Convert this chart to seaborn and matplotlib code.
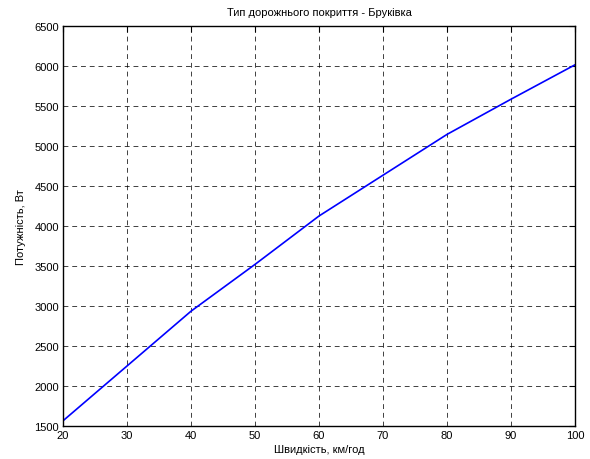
import matplotlib
matplotlib.use("Agg")
import matplotlib.pyplot as plt
import seaborn as sns
import pandas as pd

speed = [20, 30, 40, 50, 60, 70, 80, 90, 100]
power = [1565, 2250, 2935, 3520, 4125, 4635, 5145, 5585, 6015]
x_ticks = [20, 30, 40, 50, 60, 70, 80, 90, 100]
y_ticks = [1500, 2000, 2500, 3000, 3500, 4000, 4500, 5000, 5500, 6000, 6500]

title = "Тип дорожнього покриття - Бруківка"
xlabel = "Швидкість, км/год"
ylabel = "Потужність, Вт"

sns.set_style("white")
plt.rcParams['font.family'] = ['Liberation Sans', 'DejaVu Sans']
plt.rcParams['font.size'] = 8
plt.rcParams['text.color'] = 'black'
plt.rcParams['axes.labelcolor'] = 'black'

df = pd.DataFrame({"speed": speed, "power": power})

fig = plt.figure(figsize=(5.9, 4.6), dpi=100)
ax = fig.add_axes([63/590, 33/460, (575-63)/590, (427-27)/460])
sns.lineplot(data=df, x="speed", y="power", ax=ax, color="#0000ff", linewidth=1.2)

ax.set_xlim(20, 100)
ax.set_ylim(1500, 6500)
ax.set_xticks(x_ticks)
ax.set_yticks(y_ticks)
ax.tick_params(direction="in", length=4, width=0.8, top=True, right=True,
               labelsize=8, colors="black", pad=3)
ax.grid(True, color="black", linestyle=(0, (5, 4)), linewidth=0.7, alpha=0.75)
for s in ax.spines.values():
    s.set_visible(True)
    s.set_color("black")
    s.set_linewidth(1.0)
ax.set_title(title, fontsize=8, pad=8, color="black")
ax.set_xlabel(xlabel, fontsize=8, labelpad=3, color="black")
ax.set_ylabel(ylabel, fontsize=8, labelpad=6, color="black")

fig.savefig("out.png", dpi=100)
